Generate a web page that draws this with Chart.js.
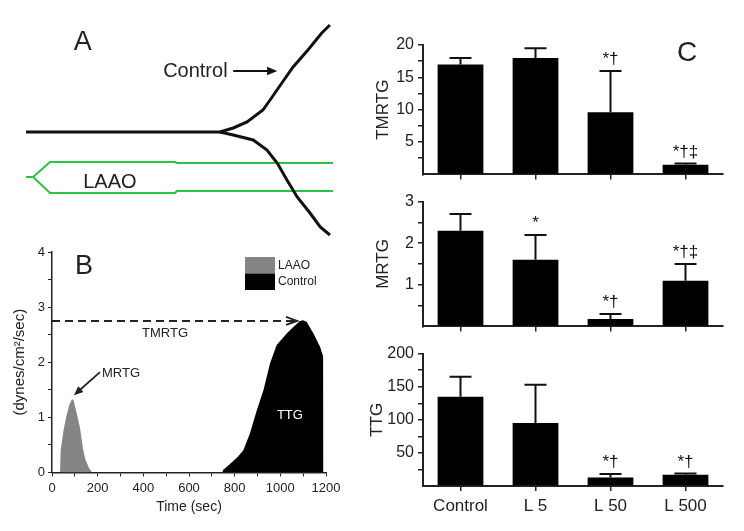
<!DOCTYPE html>
<html lang="en">
<head>
<meta charset="UTF-8">
<title>LAAO thrombelastography</title>
<script src="https://cdn.jsdelivr.net/npm/chart.js"></script>
<style>
  body { margin: 0; background: #fff; }
  #wrap { position: relative; width: 744px; height: 531px; overflow: hidden; background: #fff; }
  canvas { position: absolute; }
</style>
</head>
<body>
<div id="wrap">
  <canvas id="chartA" style="left:0;top:0;width:372px;height:240px" width="372" height="240"></canvas>
  <canvas id="chartB" style="left:0;top:240px;width:362px;height:291px" width="362" height="291"></canvas>
  <canvas id="chartC1" style="left:370px;top:28px;width:374px;height:160px" width="374" height="160"></canvas>
  <canvas id="chartC2" style="left:370px;top:188px;width:374px;height:152px" width="374" height="152"></canvas>
  <canvas id="chartC3" style="left:362px;top:340px;width:382px;height:191px" width="382" height="191"></canvas>
</div>
<script>
const FONT = "Arial, 'Liberation Sans', sans-serif";
const INK = '#222';
Chart.defaults.font.family = FONT;
Chart.defaults.color = INK;
Chart.defaults.animation = false;

// ---- panel A : TEG traces (time in min, amplitude in mm)
const traceTime  = [0, 37.9, 40.5, 43.2, 46.3, 47.7, 50.0, 52.2, 55.1, 57.8, 59.4];
const traceUpper = [0, 0, 2, 5, 11, 16, 24.5, 32.5, 41, 49.5, 53.5];
const lowerTime  = [37.9, 40.5, 44.4, 47.1, 49.1, 51.0, 53.0, 55.5, 57.5, 59.4];
const traceLower = [0, -1.5, -4, -9, -15.5, -24, -32.5, -40.5, -47.5, -51.5];
const laaoTime   = [0, 1.4, 4.7, 29.1, 29.5, 60];
const laaoUpper  = [-22.5, -22.5, -15, -15, -15.5, -15.5];
const laaoLower  = [-22.5, -22.5, -30.5, -30.5, -29.5, -29.5];

// ---- panel B : rate of thrombus generation
const laaoSec   = [35, 38, 50, 62, 75, 88, 95, 108, 123, 135, 145, 160, 175];
const laaoRate  = [0, 0.4, 0.75, 1.0, 1.22, 1.33, 1.3, 1.08, 0.8, 0.45, 0.25, 0.1, 0];
const ctrlSec   = [745, 750, 765, 813, 838, 867, 897, 926, 955, 984, 1028, 1057, 1086, 1100, 1116, 1145, 1174, 1188, 1189];
const ctrlRate  = [0, 0.05, 0.1, 0.28, 0.4, 0.71, 1.13, 1.49, 1.98, 2.31, 2.52, 2.64, 2.75, 2.76, 2.73, 2.52, 2.28, 2.1, 0];

// ---- panel C : bar summaries
const groups   = ['Control', 'L 5', 'L 50', 'L 500'];
const tmrtg    = [17, 18, 9.6, 1.5];
const tmrtgErr = [1, 1.5, 6.4, 0.2];
const tmrtgSig = ['', '', '*\u2020', '*\u2020\u2021'];
const mrtg     = [2.3, 1.6, 0.18, 1.1];
const mrtgErr  = [0.4, 0.6, 0.12, 0.4];
const mrtgSig  = ['', '*', '*\u2020', '*\u2020\u2021'];
const ttg      = [135, 95, 13, 17];
const ttgErr   = [30, 58, 5, 2];
const ttgSig   = ['', '', '*\u2020', '*\u2020'];

function pts(xs, ys) { return xs.map((x, i) => ({x: x, y: ys[i]})); }

function text(ctx, s, x, y, size, align, color) {
  ctx.font = size + 'px ' + FONT;
  ctx.fillStyle = color || INK;
  ctx.textAlign = align || 'center';
  ctx.textBaseline = 'middle';
  ctx.fillText(s, x, y);
}

function arrow(ctx, x1, y1, x2, y2, head) {
  const a = Math.atan2(y2 - y1, x2 - x1);
  ctx.beginPath();
  ctx.moveTo(x1, y1);
  ctx.lineTo(x2 - Math.cos(a) * head * 0.6, y2 - Math.sin(a) * head * 0.6);
  ctx.stroke();
  ctx.beginPath();
  ctx.moveTo(x2, y2);
  ctx.lineTo(x2 - head * Math.cos(a - 0.4), y2 - head * Math.sin(a - 0.4));
  ctx.lineTo(x2 - head * Math.cos(a + 0.4), y2 - head * Math.sin(a + 0.4));
  ctx.closePath();
  ctx.fill();
}

// ================= A
new Chart(document.getElementById('chartA'), {
  type: 'scatter',
  data: {
    datasets: [
      {data: pts(traceTime, traceUpper), borderColor: '#111', borderWidth: 3},
      {data: pts(lowerTime, traceLower), borderColor: '#111', borderWidth: 3},
      {data: pts(laaoTime, laaoUpper), borderColor: '#2bc341', borderWidth: 2},
      {data: pts(laaoTime, laaoLower), borderColor: '#2bc341', borderWidth: 2}
    ]
  },
  options: {
    responsive: false,
    showLine: true,
    clip: false,
    elements: {point: {radius: 0}, line: {tension: 0}},
    layout: {padding: 0},
    plugins: {legend: {display: false}, tooltip: {enabled: false}},
    scales: {
      x: {type: 'linear', display: false, min: -5.08, max: 67.62},
      y: {display: false, min: -54, max: 66}
    }
  },
  plugins: [{
    id: 'notesA',
    afterDraw(chart) {
      const {ctx, scales: {x, y}} = chart;
      ctx.save();
      text(ctx, 'A', x.getPixelForValue(11.1), y.getPixelForValue(44.5), 27);
      text(ctx, 'Control', x.getPixelForValue(33.1), y.getPixelForValue(30.5), 20);
      text(ctx, 'LAAO', x.getPixelForValue(16.4), y.getPixelForValue(-25), 20);
      ctx.strokeStyle = '#111'; ctx.fillStyle = '#111'; ctx.lineWidth = 2;
      arrow(ctx, x.getPixelForValue(40.5), y.getPixelForValue(30.5),
                 x.getPixelForValue(49.1), y.getPixelForValue(30.5), 11);
      ctx.restore();
    }
  }]
});

// ================= B
new Chart(document.getElementById('chartB'), {
  type: 'scatter',
  data: {
    datasets: [
      {label: 'LAAO', data: pts(laaoSec, laaoRate), borderWidth: 0, borderColor: '#858585',
       backgroundColor: '#858585', fill: 'origin'},
      {label: 'Control', data: pts(ctrlSec, ctrlRate), borderWidth: 0, borderColor: '#000',
       backgroundColor: '#000', fill: 'origin'}
    ]
  },
  options: {
    responsive: false,
    showLine: true,
    elements: {point: {radius: 0}, line: {tension: 0}},
    layout: {padding: {left: 7, top: 12, right: 36, bottom: 11.6}},
    plugins: {legend: {display: false}, tooltip: {enabled: false}},
    scales: {
      x: {
        type: 'linear', min: 0, max: 1200,
        afterFit(s) { s.height = 47; },
        ticks: {stepSize: 100, autoSkip: false, maxRotation: 0, padding: 4, font: {size: 13},
                callback: v => v % 200 === 0 ? v : ''},
        grid: {drawOnChartArea: false, tickLength: 4, color: INK, lineWidth: 1},
        border: {color: INK, width: 1.5},
        title: {display: true, text: 'Time (sec)', font: {size: 14}}
      },
      y: {
        min: 0, max: 4,
        afterFit(s) { s.width = 45; },
        ticks: {stepSize: 0.5, autoSkip: false, padding: 3, font: {size: 13},
                callback: v => Number.isInteger(v) ? v : ''},
        grid: {drawOnChartArea: false, tickLength: 4, color: INK, lineWidth: 1},
        border: {color: INK, width: 1.5},
        title: {display: true, text: '(dynes/cm\u00b2/sec)', font: {size: 15}}
      }
    }
  },
  plugins: [{
    id: 'notesB',
    afterDraw(chart) {
      const {ctx, scales: {x, y}, chartArea: ca} = chart;
      ctx.save();
      text(ctx, 'B', x.getPixelForValue(140), y.getPixelForValue(3.74), 27);
      // dashed TMRTG arrow
      ctx.strokeStyle = INK; ctx.fillStyle = INK; ctx.lineWidth = 2;
      const yy = y.getPixelForValue(2.75), tip = x.getPixelForValue(1073);
      ctx.setLineDash([8, 5]);
      ctx.beginPath(); ctx.moveTo(x.getPixelForValue(0), yy); ctx.lineTo(tip - 2, yy); ctx.stroke();
      ctx.setLineDash([]);
      ctx.beginPath();
      ctx.moveTo(tip - 11, yy - 4); ctx.lineTo(tip, yy); ctx.lineTo(tip - 11, yy + 4);
      ctx.stroke();
      text(ctx, 'TMRTG', x.getPixelForValue(495), y.getPixelForValue(2.53), 13);
      // MRTG arrow
      ctx.lineWidth = 1.8;
      arrow(ctx, x.getPixelForValue(210), y.getPixelForValue(1.82),
                 x.getPixelForValue(96), y.getPixelForValue(1.40), 10);
      text(ctx, 'MRTG', x.getPixelForValue(219), y.getPixelForValue(1.8), 13, 'left');
      text(ctx, 'TTG', x.getPixelForValue(1042), y.getPixelForValue(1.04), 13, 'center', '#fff');
      // legend
      const lx = ca.right - 81, ly = ca.top + 5;
      chart.data.datasets.forEach((ds, i) => {
        ctx.fillStyle = ds.backgroundColor;
        ctx.fillRect(lx, ly + i * 16.5, 30, 16.5);
        text(ctx, ds.label, lx + 33, ly + i * 16.5 + 8.5, 12, 'left');
      });
      ctx.restore();
    }
  }]
});

// ================= C
const errorBars = {
  id: 'errorBars',
  afterDatasetsDraw(chart) {
    const {ctx, scales: {y}} = chart;
    const ds = chart.data.datasets[0];
    const meta = chart.getDatasetMeta(0);
    ctx.save();
    ctx.strokeStyle = '#111';
    ctx.lineWidth = 2;
    meta.data.forEach((bar, i) => {
      const top = y.getPixelForValue(ds.data[i] + ds.errors[i]);
      ctx.beginPath();
      ctx.moveTo(bar.x, bar.y); ctx.lineTo(bar.x, top);
      ctx.moveTo(bar.x - 11, top); ctx.lineTo(bar.x + 11, top);
      ctx.stroke();
      if (ds.marks[i]) {
        ctx.font = '17px ' + FONT;
        ctx.fillStyle = '#111';
        ctx.textAlign = 'center';
        ctx.textBaseline = 'bottom';
        ctx.fillText(ds.marks[i], bar.x, top - 3);
      }
    });
    if (chart.canvas.id === 'chartC1') {
      text(ctx, 'C', chart.chartArea.right - 36, chart.chartArea.top + 8, 28);
    }
    ctx.restore();
  }
};

function barPanel(id, title, values, errs, marks, yMax, minor, major, padTop, xHeight, showLabels, yWidth, titlePad) {
  return new Chart(document.getElementById(id), {
    type: 'bar',
    data: {
      labels: groups,
      datasets: [{data: values, errors: errs, marks: marks, backgroundColor: '#000',
                  borderWidth: 0, barPercentage: 0.61, categoryPercentage: 1}]
    },
    options: {
      responsive: false,
      layout: {padding: {left: 0, top: padTop, right: 21, bottom: 0}},
      plugins: {legend: {display: false}, tooltip: {enabled: false}},
      scales: {
        x: {
          afterFit(s) { s.height = xHeight; },
          grid: {offset: false, drawOnChartArea: false, tickLength: 5, color: INK, lineWidth: 1.5},
          border: {color: INK, width: 2},
          ticks: {display: showLabels, padding: 5, font: {size: 17}, maxRotation: 0}
        },
        y: {
          min: 0, max: yMax,
          afterFit(s) { s.width = yWidth; },
          ticks: {stepSize: minor, autoSkip: false, padding: 4, font: {size: 16},
                  callback: v => (v > 0 && Math.abs(v / major - Math.round(v / major)) < 1e-6) ? v : ''},
          grid: {drawOnChartArea: false, tickLength: 5, lineWidth: 1.5,
                 color: c => c.tick && c.tick.value === 0 ? 'rgba(0,0,0,0)' : INK},
          border: {color: INK, width: 2},
          title: {display: true, text: title, font: {size: 17}, padding: {top: titlePad, bottom: 0}}
        }
      }
    },
    plugins: [errorBars]
  });
}

barPanel('chartC1', 'TMRTG', tmrtg, tmrtgErr, tmrtgSig, 20, 2.5, 5, 17, 7, false, 53, 3);
barPanel('chartC2', 'MRTG', mrtg, mrtgErr, mrtgSig, 3, 0.5, 1, 11, 7, false, 53, 3);
barPanel('chartC3', 'TTG', ttg, ttgErr, ttgSig, 200, 25, 50, 10, 45, true, 61, 5);
</script>
</body>
</html>
